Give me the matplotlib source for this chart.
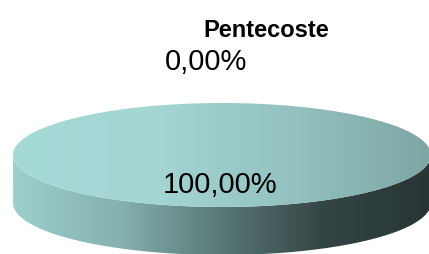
import numpy as np
import matplotlib.pyplot as plt
from matplotlib.path import Path
from matplotlib.patches import PathPatch
from matplotlib.colors import LinearSegmentedColormap

title = "Pentecoste"
labels = ["Sì", "No"]
values = [100.0, 0.0]
pct_text = ["100,00%", "0,00%"]

W, H = 429, 254
fig = plt.figure(figsize=(W / 100, H / 100), dpi=100)
ax = fig.add_axes([0, 0, 1, 1])
ax.set_xlim(0, W)
ax.set_ylim(H, 0)
ax.axis("off")

cx, cy, a, b, h = 222, 155, 209, 52, 48  # ellipse center, radii, thickness

def ell(t, dy=0):
    return np.column_stack([cx + a * np.cos(t), cy + dy + b * np.sin(t)])

# side of the disc (front half)
t = np.linspace(0, np.pi, 200)
side = np.vstack([ell(t), ell(t[::-1], h), ell(t[:1])])
side_path = Path(side)
side_cm = LinearSegmentedColormap.from_list(
    "side", ["#9ccfcc", "#86b2b0", "#587776", "#324443", "#283635"])
grad = np.linspace(0, 1, 256).reshape(1, -1)
im = ax.imshow(grad, cmap=side_cm, extent=[cx - a, cx + a, cy + b + h, cy],
               aspect="auto", zorder=1)
p = PathPatch(side_path, facecolor="none", edgecolor="none")
ax.add_patch(p)
im.set_clip_path(p)

# top face, one wedge per value
top_cm = LinearSegmentedColormap.from_list(
    "top", ["#a6dad7", "#a4d6d4", "#93c2c0", "#7da6a4"])
tot = sum(values)
start = -np.pi / 2
for v in values:
    span = 2 * np.pi * v / tot
    if span <= 0:
        continue
    tt = np.linspace(start, start + span, 300)
    pts = ell(tt)
    if span < 2 * np.pi:
        pts = np.vstack([[cx, cy], pts, [cx, cy]])
    wp = PathPatch(Path(pts), facecolor="none", edgecolor="none")
    ax.add_patch(wp)
    tim = ax.imshow(grad, cmap=top_cm, extent=[cx - a, cx + a, cy + b, cy - b],
                    aspect="auto", zorder=2)
    tim.set_clip_path(wp)
    start += span

ax.text(266, 37, title, fontsize=17, fontweight="bold", ha="center",
        va="baseline", family="Liberation Sans")
ax.text(206, 70, pct_text[1], fontsize=21, ha="center", va="baseline",
        family="Liberation Sans")
ax.text(220, 193, pct_text[0], fontsize=21, ha="center", va="baseline",
        family="Liberation Sans", zorder=5)

fig.savefig("out.png", dpi=100)
